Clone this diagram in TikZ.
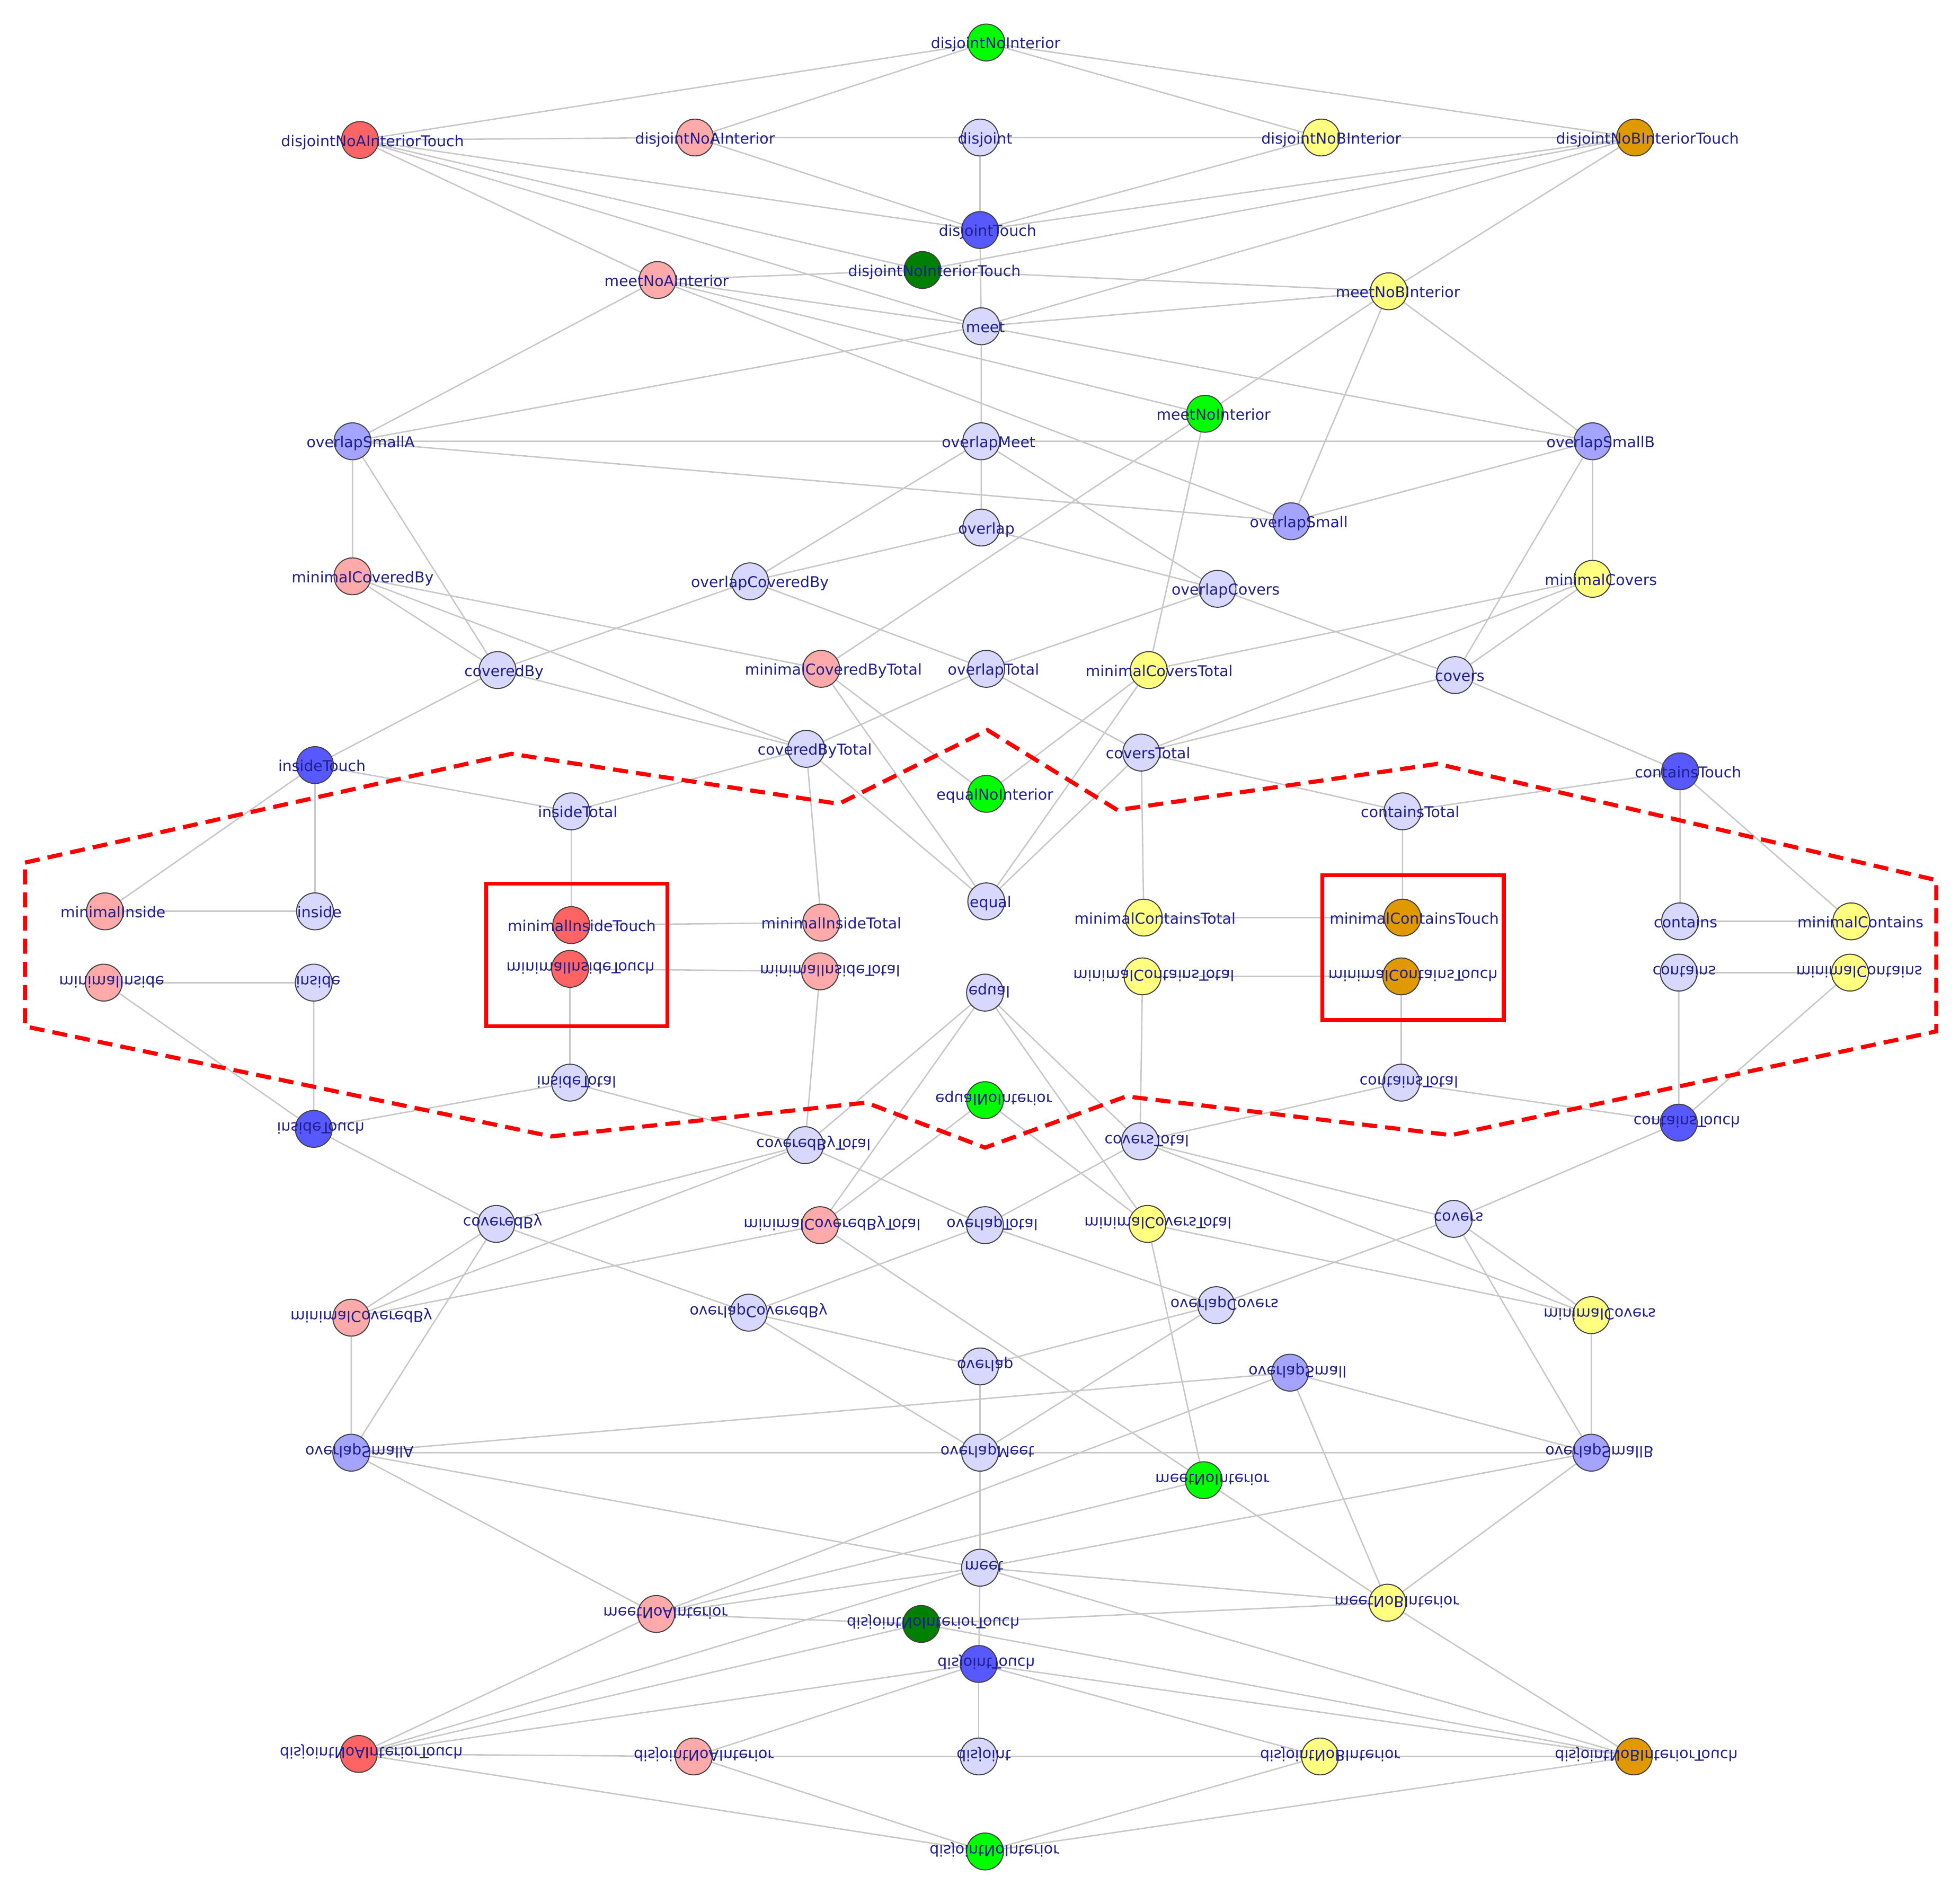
\documentclass[tikz,border=0pt]{standalone}
\usepackage{fontspec}
\setmainfont{DejaVu Sans}
\usetikzlibrary{backgrounds}

\definecolor{zelena}{HTML}{00FF00}
\definecolor{tmavezelena}{HTML}{008000}
\definecolor{cervena}{HTML}{FF6464}
\definecolor{ruzova}{HTML}{FFAAAA}
\definecolor{levandule}{HTML}{D8D8FF}
\definecolor{modra}{HTML}{5858FF}
\definecolor{svetlemodra}{HTML}{A4A4FF}
\definecolor{zluta}{HTML}{FFFF80}
\definecolor{oranzova}{HTML}{E09A00}
\definecolor{textmodra}{RGB}{30,30,140}

\newsavebox\popisbox
\newcommand\posun[1]{\sbox\popisbox{#1}\hspace*{\dimexpr 3pt+0.116\wd\popisbox\relax}\usebox\popisbox}
\newcommand\uzel[5]{\node[uzel, fill=#4, label={[popisek]center:\posun{#5}}] (#1) at (#2,#3) {};}

% jedna polovina svazu
\newcommand\polovina{%
    \uzel{dNI}{789}{34}{zelena}{disjointNoInterior}
    \uzel{dNAIT}{288}{112}{cervena}{disjointNoAInteriorTouch}
    \uzel{dNAI}{556}{110}{ruzova}{disjointNoAInterior}
    \uzel{dis}{784}{110}{levandule}{disjoint}
    \uzel{dNBI}{1057}{110}{zluta}{disjointNoBInterior}
    \uzel{dNBIT}{1308}{110}{oranzova}{disjointNoBInteriorTouch}
    \uzel{dT}{784}{184}{modra}{disjointTouch}
    \uzel{dNIT}{738}{216}{tmavezelena}{disjointNoInteriorTouch}
    \uzel{mNAI}{526}{224}{ruzova}{meetNoAInterior}
    \uzel{mNBI}{1111}{233}{zluta}{meetNoBInterior}
    \uzel{meet}{785}{261}{levandule}{meet}
    \uzel{mNI}{964}{331}{zelena}{meetNoInterior}
    \uzel{oSA}{282}{353}{svetlemodra}{overlapSmallA}
    \uzel{oM}{785}{353}{levandule}{overlapMeet}
    \uzel{oSB}{1274}{353}{svetlemodra}{overlapSmallB}
    \uzel{oS}{1033}{417}{svetlemodra}{overlapSmall}
    \uzel{ov}{785}{422}{levandule}{overlap}
    \uzel{mCB}{282}{461}{ruzova}{minimalCoveredBy}
    \uzel{oCB}{600}{465}{levandule}{overlapCoveredBy}
    \uzel{oC}{974}{471}{levandule}{overlapCovers}
    \uzel{mC}{1274}{463}{zluta}{minimalCovers}
    \uzel{cB}{398}{536}{levandule}{coveredBy}
    \uzel{mCBT}{657}{535}{ruzova}{minimalCoveredByTotal}
    \uzel{oT}{789}{535}{levandule}{overlapTotal}
    \uzel{mCT}{919}{536}{zluta}{minimalCoversTotal}
    \uzel{cov}{1164}{540}{levandule}{covers}
    \uzel{cBT}{645}{599}{levandule}{coveredByTotal}
    \uzel{cT}{913}{602}{levandule}{coversTotal}
    \uzel{iT}{252}{612}{modra}{insideTouch}
    \uzel{cTo}{1344}{617}{modra}{containsTouch}
    \uzel{eNI}{789}{635}{zelena}{equalNoInterior}
    \uzel{iTot}{457}{649}{levandule}{insideTotal}
    \uzel{conT}{1122}{649}{levandule}{containsTotal}
    \uzel{mI}{84}{729}{ruzova}{minimalInside}
    \uzel{ins}{252}{729}{levandule}{inside}
    \uzel{eq}{789}{721}{levandule}{equal}
    \uzel{mIT}{457}{740}{cervena}{minimalInsideTouch}
    \uzel{mITot}{657}{738}{ruzova}{minimalInsideTotal}
    \uzel{mCoT}{915}{734}{zluta}{minimalContainsTotal}
    \uzel{mCoTo}{1122}{734}{oranzova}{minimalContainsTouch}
    \uzel{con}{1344}{737}{levandule}{contains}
    \uzel{mCo}{1481}{737}{zluta}{minimalContains}
    % hrany
    \begin{pgfonlayer}{background}
        \draw[hrana] (dNI) -- (dNAIT) (dNI) -- (dNAI) (dNI) -- (dNBI) (dNI) -- (dNBIT);
        \draw[hrana] (dNAIT) -- (dNAI) (dNAIT) -- (dT) (dNAIT) -- (dNIT) (dNAIT) -- (meet) (dNAIT) -- (mNAI);
        \draw[hrana] (dNAI) -- (dis) (dNAI) -- (dT);
        \draw[hrana] (dis) -- (dNBI) (dis) -- (dT);
        \draw[hrana] (dNBI) -- (dNBIT) (dNBI) -- (dT);
        \draw[hrana] (dNBIT) -- (dT) (dNBIT) -- (dNIT) (dNBIT) -- (meet) (dNBIT) -- (mNBI);
        \draw[hrana] (dT) -- (meet);
        \draw[hrana] (dNIT) -- (mNAI) (dNIT) -- (mNBI);
        \draw[hrana] (mNAI) -- (meet) (mNAI) -- (mNI) (mNAI) -- (oS) (mNAI) -- (oSA);
        \draw[hrana] (meet) -- (mNBI) (meet) -- (oSA) (meet) -- (oSB) (meet) -- (oM);
        \draw[hrana] (mNBI) -- (mNI) (mNBI) -- (oS) (mNBI) -- (oSB);
        \draw[hrana] (mNI) -- (mCBT) (mNI) -- (mCT);
        \draw[hrana] (oSA) -- (oM) (oSA) -- (oS) (oSA) -- (mCB) (oSA) -- (cB);
        \draw[hrana] (oM) -- (oSB) (oM) -- (ov) (oM) -- (oCB) (oM) -- (oC);
        \draw[hrana] (oSB) -- (oS) (oSB) -- (mC) (oSB) -- (cov);
        \draw[hrana] (ov) -- (oCB) (ov) -- (oC);
        \draw[hrana] (mCB) -- (cB) (mCB) -- (cBT) (mCB) -- (mCBT);
        \draw[hrana] (cB) -- (oCB) (cB) -- (cBT) (cB) -- (iT);
        \draw[hrana] (oCB) -- (oT);
        \draw[hrana] (oC) -- (oT) (oC) -- (cov);
        \draw[hrana] (mC) -- (mCT) (mC) -- (cT) (mC) -- (cov);
        \draw[hrana] (cov) -- (cT) (cov) -- (cTo);
        \draw[hrana] (oT) -- (cBT) (oT) -- (cT);
        \draw[hrana] (mCBT) -- (eNI) (mCBT) -- (eq);
        \draw[hrana] (mCT) -- (eNI) (mCT) -- (eq);
        \draw[hrana] (cBT) -- (iTot) (cBT) -- (mITot) (cBT) -- (eq);
        \draw[hrana] (cT) -- (eq) (cT) -- (mCoT) (cT) -- (conT);
        \draw[hrana] (conT) -- (cTo) (conT) -- (mCoTo);
        \draw[hrana] (iT) -- (iTot) (iT) -- (ins) (iT) -- (mI);
        \draw[hrana] (mI) -- (ins);
        \draw[hrana] (iTot) -- (mIT);
        \draw[hrana] (mIT) -- (mITot);
        \draw[hrana] (mCoT) -- (mCoTo);
        \draw[hrana] (cTo) -- (con) (cTo) -- (mCo);
        \draw[hrana] (con) -- (mCo);
    \end{pgfonlayer}%
}

\begin{document}
\begin{tikzpicture}[x=1pt, y=-1pt,
    uzel/.style={circle, draw=black!75, line width=0.8pt, minimum size=29.5pt, inner sep=0pt},
    popisek/.style={inner sep=0pt, text height=10pt, text depth=0pt, text=textmodra, font=\fontsize{12}{14}\selectfont},
    hrana/.style={draw=black!22, line width=1.1pt},
    oblast/.style={draw=red, line width=3.3pt, dash pattern=on 12pt off 6.5pt},
    ramecek/.style={draw=red, line width=3pt}]
    \useasboundingbox (0,0) rectangle (1568,1522);

    % horní polovina
    \polovina

    % dolní polovina, zrcadlově
    \begin{scope}[name prefix=z-, shift={(-1pt,-1515pt)}, yscale=-1, transform shape]
        \polovina
    \end{scope}

    % vyznačená oblast
    \draw[oblast] (20,690) -- (409,603) -- (671,643) -- (790,584) -- (894,648)
        -- (1150,611) -- (1549,704) -- (1549,825) -- (1161,908) -- (901,877)
        -- (788,918) -- (693,882) -- (441,909) -- (20,821) -- cycle;

    % rámečky
    \draw[ramecek] (389,707) rectangle (534,821);
    \draw[ramecek] (1058,700) rectangle (1203,816);
\end{tikzpicture}
\end{document}
